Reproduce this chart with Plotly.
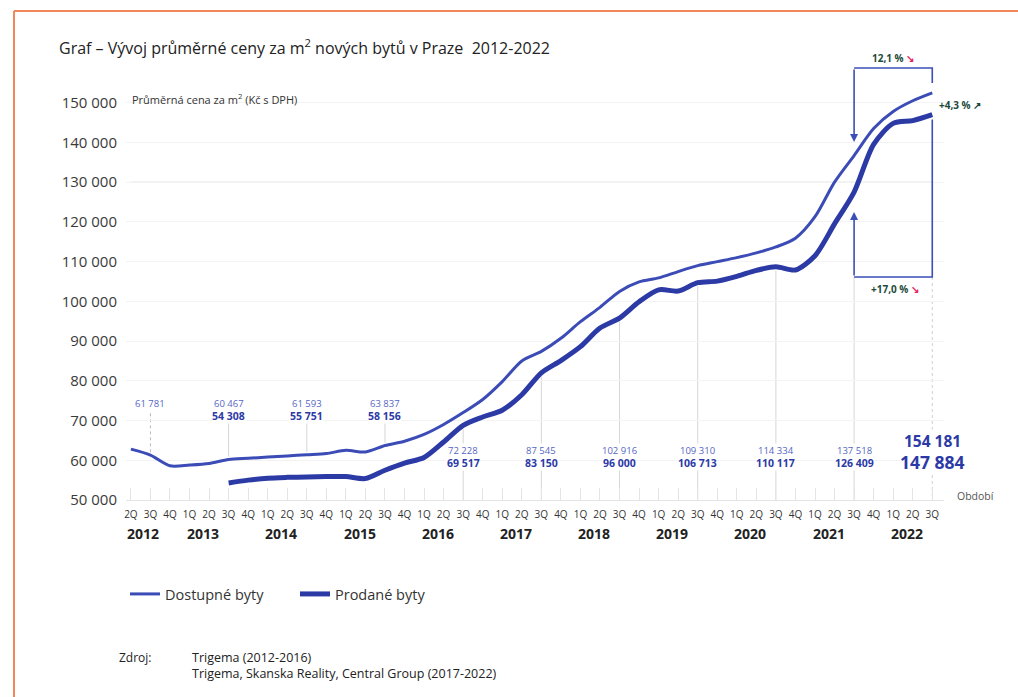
import plotly.graph_objects as go

# ---------------- data ----------------
quarters = ["2Q", "3Q", "4Q"] + ["1Q", "2Q", "3Q", "4Q"] * 9 + ["1Q", "2Q", "3Q"]
years = ["2012", "2013", "2014", "2015", "2016", "2017", "2018", "2019", "2020", "2021", "2022"]

dostupne = [62800, 61300, 58600, 58800, 59200, 60200, 60500, 60800, 61100, 61400,
            61700, 62500, 62100, 63700, 64800, 66500, 69000, 72000, 75300, 79800,
            85000, 87400, 90700, 94900, 98500, 102500, 104900, 105900, 107500, 109000,
            110000, 111000, 112200, 113700, 115900, 121300, 130000, 136700, 143500, 147800,
            150500, 152500]
prodane = [None, None, None, None, None,
           54300, 55000, 55500, 55700, 55800, 55900, 55900, 55400, 57500, 59300,
           60700, 64600, 68800, 70900, 72600, 76500, 82000, 85100, 88600, 93300,
           95800, 99900, 102900, 102600, 104700, 105100, 106300, 107800, 108700, 107900,
           111500, 119500, 127500, 139500, 144800, 145500, 147000]

label_idx = [1, 5, 9, 13, 17, 21, 25, 29, 33, 37, 41]          # 3Q of each year
label_dostupne = [61781, 60467, 61593, 63837, 72228, 87545, 102916, 109310, 114334, 137518, 154181]
label_prodane = [None, 54308, 55751, 58156, 69517, 83150, 96000, 106713, 110117, 126409, 147884]

y_ticks = list(range(50000, 150001, 10000))

# ---------------- geometry helpers ----------------
W, H = 1018, 697
L, T, PW, PH = 126, 63, 818, 437
YMIN, YMAX = 50000, 160000
XMIN, XMAX = -0.25, 41.6


def xp(px):
    return (px - L) / PW


def yp(py):
    return (T + PH - py) / PH


def yv(py):
    return YMIN + (T + PH - py) * (YMAX - YMIN) / PH


def fmt(v):
    return f"{v:,}".replace(",", " ")


x = list(range(len(quarters)))

C_AV = "#3b4cb6"
C_SOLD = "#2c3aa6"
C_BOX = "#3a4fb8"
FONT = "Open Sans"

fig = go.Figure()
fig.add_trace(go.Scatter(x=x, y=dostupne, mode="lines", name="Dostupné byty",
                         line=dict(color=C_AV, width=3, shape="spline", smoothing=0.8)))
fig.add_trace(go.Scatter(x=x, y=prodane, mode="lines", name="Prodané byty",
                         line=dict(color=C_SOLD, width=5, shape="spline", smoothing=0.8)))

shapes = []
annotations = []

# orange frame (top and left)
shapes.append(dict(type="line", xref="paper", yref="paper", x0=xp(14), x1=xp(W + 5),
                   y0=yp(11), y1=yp(11), line=dict(color="#f2875a", width=2)))
shapes.append(dict(type="line", xref="paper", yref="paper", x0=xp(14), x1=xp(14),
                   y0=yp(11), y1=yp(H + 5), line=dict(color="#f2875a", width=2)))

# 130 000 line (more visible in the reference)
shapes.append(dict(type="line", xref="x", yref="y", x0=0, x1=41, y0=130000, y1=130000,
                   layer="below", line=dict(color="#e6e6e6", width=1.2)))

box_top = yv(68)
box_bottom = yv(277)

# vertical guide lines and value labels
for k, i in enumerate(label_idx):
    av = label_dostupne[k]
    so = label_prodane[k]
    if k <= 3:
        top_label_y = yv(403)
        bot_label_y = yv(416)
        line_top = yv(410) if so is None else yv(423)
        shapes.append(dict(type="line", xref="x", yref="y", x0=i, x1=i,
                           y0=dostupne[i] + 700, y1=line_top, layer="below",
                           line=dict(color="#b8b8b8" if k == 0 else "#d6d6d6", width=1,
                                     dash="dot" if k == 0 else "solid")))
    elif k < 10:
        top_label_y = yv(450)
        bot_label_y = yv(463)
        start = box_bottom if i == 37 else prodane[i] - 900
        shapes.append(dict(type="line", xref="x", yref="y", x0=i, x1=i,
                           y0=start, y1=YMIN, layer="below",
                           line=dict(color="#d6d6d6", width=1)))
    else:
        top_label_y = yv(441)
        bot_label_y = yv(462)
        shapes.append(dict(type="line", xref="x", yref="y", x0=i, x1=i,
                           y0=box_bottom, y1=YMIN, layer="below",
                           line=dict(color="#cfcfcf", width=1, dash="dot")))
    big = (k == 10)
    annotations.append(dict(x=i, y=top_label_y, xref="x", yref="y", yanchor="middle",
                            text=f"<b>{fmt(av)}</b>" if big else fmt(av),
                            showarrow=False, bgcolor="white", borderpad=0,
                            font=dict(family=FONT, size=15.5 if big else 9.5,
                                      color=C_SOLD if big else "#5566c4")))
    if so is not None:
        annotations.append(dict(x=i, y=bot_label_y, xref="x", yref="y", yanchor="middle",
                                text=f"<b>{fmt(so)}</b>",
                                showarrow=False, bgcolor="white", borderpad=0,
                                font=dict(family=FONT, size=17.5 if big else 10.5, color=C_SOLD)))

# bracket boxes
shapes.append(dict(type="path", xref="x", yref="y",
                   path=f"M 37,{box_top} L 41,{box_top} L 41,{yv(83)}",
                   line=dict(color=C_BOX, width=1.6)))
shapes.append(dict(type="path", xref="x", yref="y",
                   path=f"M 41,{prodane[41] - 1200} L 41,{box_bottom} L 37,{box_bottom}",
                   line=dict(color=C_BOX, width=1.6)))
annotations.append(dict(x=37, y=yv(142), ax=37, ay=box_top, xref="x", yref="y", axref="x", ayref="y",
                        text="", showarrow=True, arrowhead=2, arrowsize=1, arrowwidth=1.6,
                        arrowcolor=C_BOX))
annotations.append(dict(x=37, y=yv(212), ax=37, ay=box_bottom, xref="x", yref="y", axref="x", ayref="y",
                        text="", showarrow=True, arrowhead=2, arrowsize=1, arrowwidth=1.6,
                        arrowcolor=C_BOX))

GREEN = "#1d4a3a"
RED = "#e3245f"


def text_at(px, py, text, size, color="#222222", xanchor="center", bold=False, align="left"):
    annotations.append(dict(x=xp(px), y=yp(py), xref="paper", yref="paper",
                            xanchor=xanchor, yanchor="middle", showarrow=False, align=align,
                            text=f"<b>{text}</b>" if bold else text,
                            font=dict(family=FONT, size=size, color=color)))


text_at(893, 58, f"12,1 % <span style='color:{RED}'>↘</span>", 10, GREEN, bold=True)
text_at(937, 105, "+4,3 % ↗", 10, GREEN, xanchor="left", bold=True)
text_at(895, 289, f"+17,0 % <span style='color:{RED}'>↘</span>", 10, GREEN, bold=True)

# year labels
year_pos = [0.6] + [3.7 + 4 * k for k in range(10)]
for yr, pos in zip(years, year_pos):
    annotations.append(dict(x=pos, y=yp(533), xref="x", yref="paper", yanchor="middle",
                            text=f"<b>{yr}</b>", showarrow=False,
                            font=dict(family=FONT, size=14, color="#222222")))

# texts
text_at(57, 47, "Graf – Vývoj průměrné ceny za m<sup>2</sup> nových bytů v Praze  2012-2022", 16,
        "#222222", xanchor="left")
text_at(130, 99, "Průměrná cena za m<sup>2</sup> (Kč s DPH)", 11, "#333333", xanchor="left")
text_at(955, 496, "Období", 10.5, "#555555", xanchor="left")
text_at(117, 657, "Zdroj:", 12, "#222222", xanchor="left")
text_at(190, 665, "Trigema (2012-2016)<br>Trigema, Skanska Reality, Central Group (2017-2022)", 12.5,
        "#222222", xanchor="left")

fig.update_layout(
    width=W, height=H,
    margin=dict(l=L, r=W - L - PW, t=T, b=H - T - PH, pad=0),
    paper_bgcolor="white", plot_bgcolor="white",
    showlegend=True,
    legend=dict(orientation="h", x=xp(125), y=yp(594), xanchor="left", yanchor="middle",
                entrywidth=125, entrywidthmode="pixels",
                font=dict(family=FONT, size=14.5, color="#333333"), bgcolor="rgba(0,0,0,0)"),
    xaxis=dict(range=[XMIN, XMAX], tickmode="array", tickvals=x, ticktext=quarters,
               ticks="inside", ticklen=12, tickcolor="#e4e4e4", tickwidth=1,
               showline=True, linecolor="#e4e4e4", linewidth=1,
               showgrid=False, zeroline=False, ticklabelstandoff=5,
               tickfont=dict(family=FONT, size=10, color="#333333")),
    yaxis=dict(range=[YMIN, YMAX], tickmode="array", tickvals=y_ticks,
               ticktext=[fmt(v) for v in y_ticks], showgrid=True, gridcolor="#f3f3f3",
               zeroline=False, showline=False, ticks="", ticklabelstandoff=8,
               tickfont=dict(family=FONT, size=15, color="#3a3a3a")),
    shapes=shapes, annotations=annotations,
)

fig.write_html("out.html")
